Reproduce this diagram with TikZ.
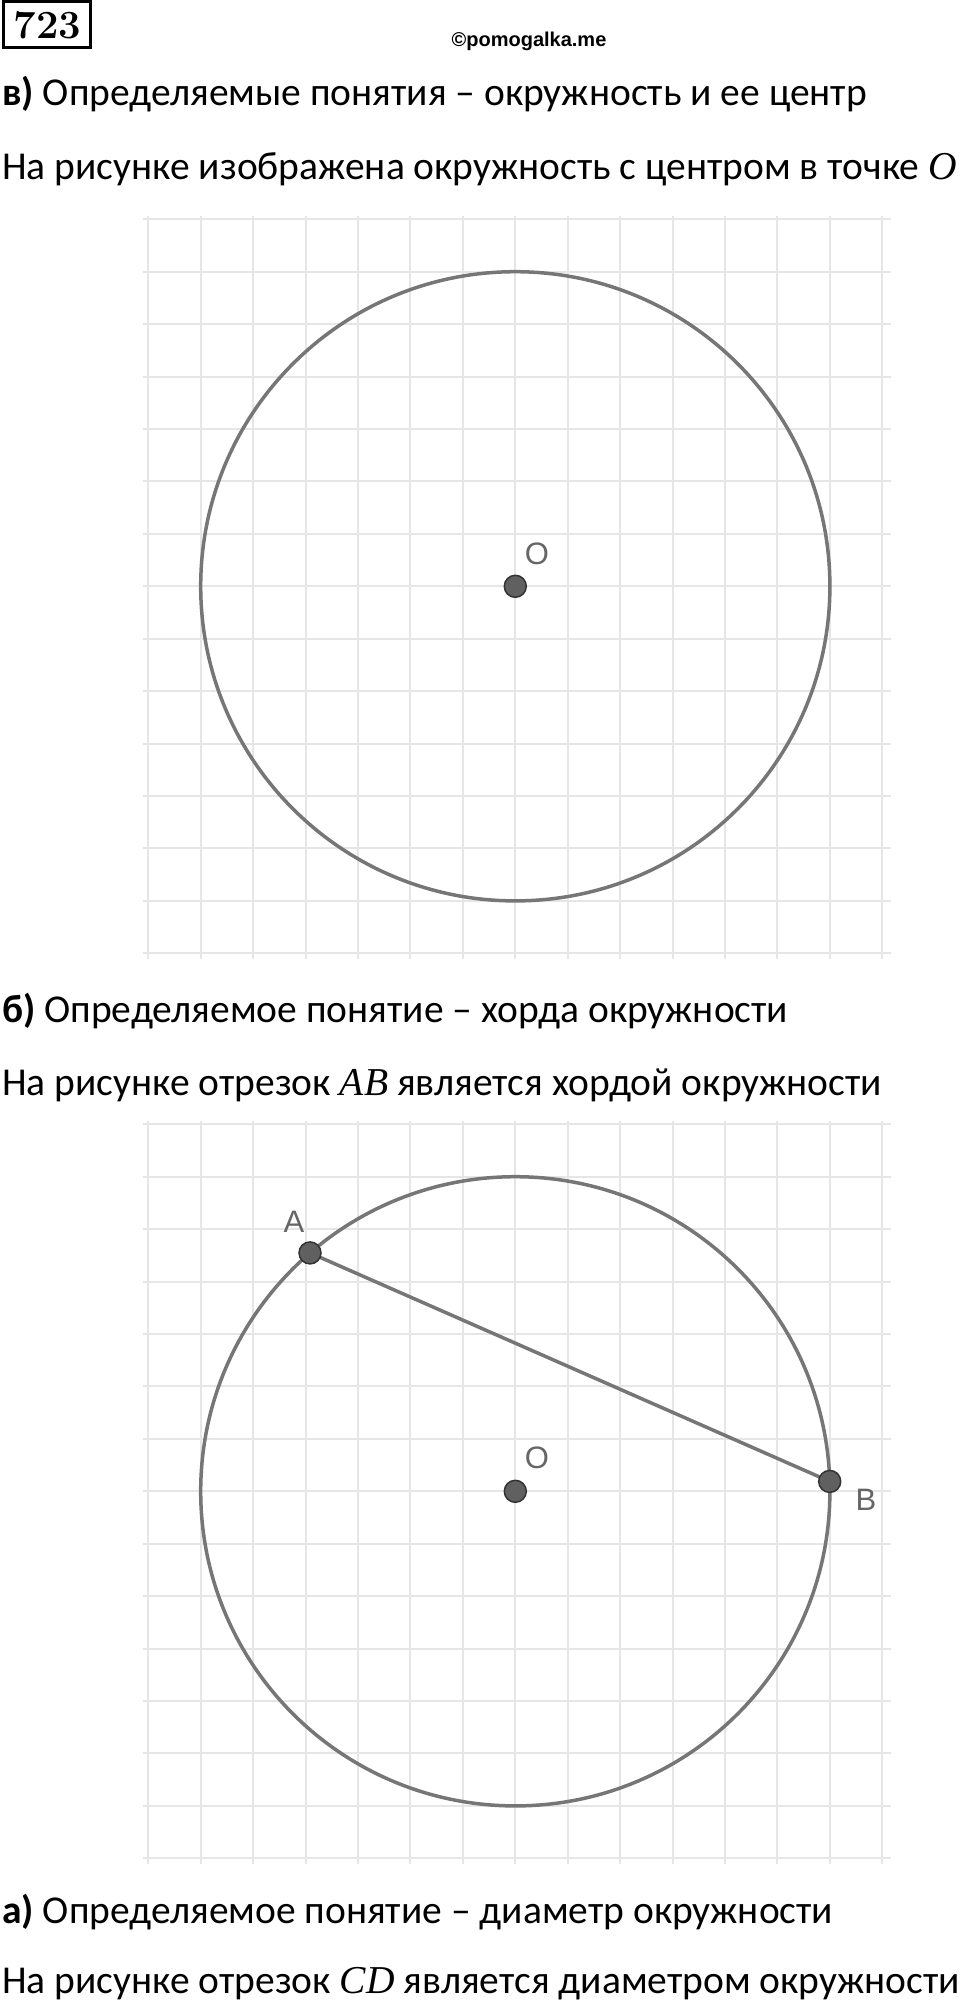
\documentclass[tikz,border=0pt]{standalone}
\usepackage{fontspec}
\newfontfamily\cf{Carlito}
\newfontfamily\serifit{Liberation Serif}
\newfontfamily\lsans{Liberation Sans}
\definecolor{gridc}{HTML}{E6E6E6}
\definecolor{circc}{HTML}{767676}
\definecolor{dotc}{HTML}{606060}
\definecolor{lblc}{HTML}{666666}
\tikzset{
  txt/.style={inner sep=0pt, anchor=base west, font=\cf\fontsize{39.5}{44}\selectfont},
  gridline/.style={draw=gridc, line width=2pt},
  circline/.style={draw=circc, line width=3.5pt},
  dot/.style={circle, minimum size=22pt, inner sep=0pt, fill=dotc, draw=black!80, line width=1.5pt},
  lbl/.style={inner sep=0pt, text=lblc, font=\lsans\fontsize{31}{34}\selectfont},
}
\newcommand{\myvar}[1]{{\serifit\itshape #1}}
\begin{document}
\begin{tikzpicture}[x=1pt,y=-1pt]
\useasboundingbox (0,0) rectangle (960,2004);
\fill[white] (0,0) rectangle (960,2004);
% header
\draw[line width=2.5pt] (3.3,1.7) rectangle (90.7,47.3);
\node[inner sep=0pt, font=\bfseries\fontsize{40}{44}\selectfont] (num) at (47.5,25) {723};
\node[inner sep=0pt, anchor=base, font=\lsans\bfseries\fontsize{20}{22}\selectfont] (wm) at (529,46.7) {©pomogalka.me};
% texts
\node[txt] (t1) at (2,105.5) {\textbf{в)} Определяемые понятия – окружность и ее центр};
\node[txt] (t2) at (2,180) {На рисунке изображена окружность с центром в точке \myvar{O}};
\node[txt] (t3) at (2,1022.5) {\textbf{б)} Определяемое понятие – хорда окружности};
\node[txt] (t4) at (2,1095.5) {На рисунке отрезок \myvar{AB} является хордой окружности};
\node[txt] (t5) at (2,1923) {\textbf{а)} Определяемое понятие – диаметр окружности};
\node[txt] (t6) at (2,1993) {На рисунке отрезок \myvar{CD} является диаметром окружности};
% grids
\foreach \dy in {0,905}{
  \foreach \i in {0,...,14}{
    \draw[gridline] ({148.3+\i*52.43},{216+\dy}) -- ({148.3+\i*52.43},{959+\dy});
    \draw[gridline] (143.3,{219.3+\i*52.43+\dy}) -- (890.7,{219.3+\i*52.43+\dy});
  }
}
% figure 1
\coordinate (C1) at (515.3,586.3);
\draw[circline] (C1) circle[radius=314.6pt];
\node[dot] (O1) at (C1) {};
\node[lbl] (lO1) at (537,554) {O};
% figure 2
\coordinate (C2) at (515.3,1491.3);
\draw[circline] (C2) circle[radius=314.6pt];
\coordinate (Ap) at (310,1252.9);
\coordinate (Bp) at (829.7,1481.4);
\draw[circline] (Ap) -- (Bp);
\node[dot] (O2) at (C2) {};
\node[dot] (A) at (Ap) {};
\node[dot] (B) at (Bp) {};
\node[lbl] (lA) at (294,1222) {A};
\node[lbl] (lO2) at (537,1458) {O};
\node[lbl] (lB) at (866,1500) {B};
\end{tikzpicture}
\end{document}
